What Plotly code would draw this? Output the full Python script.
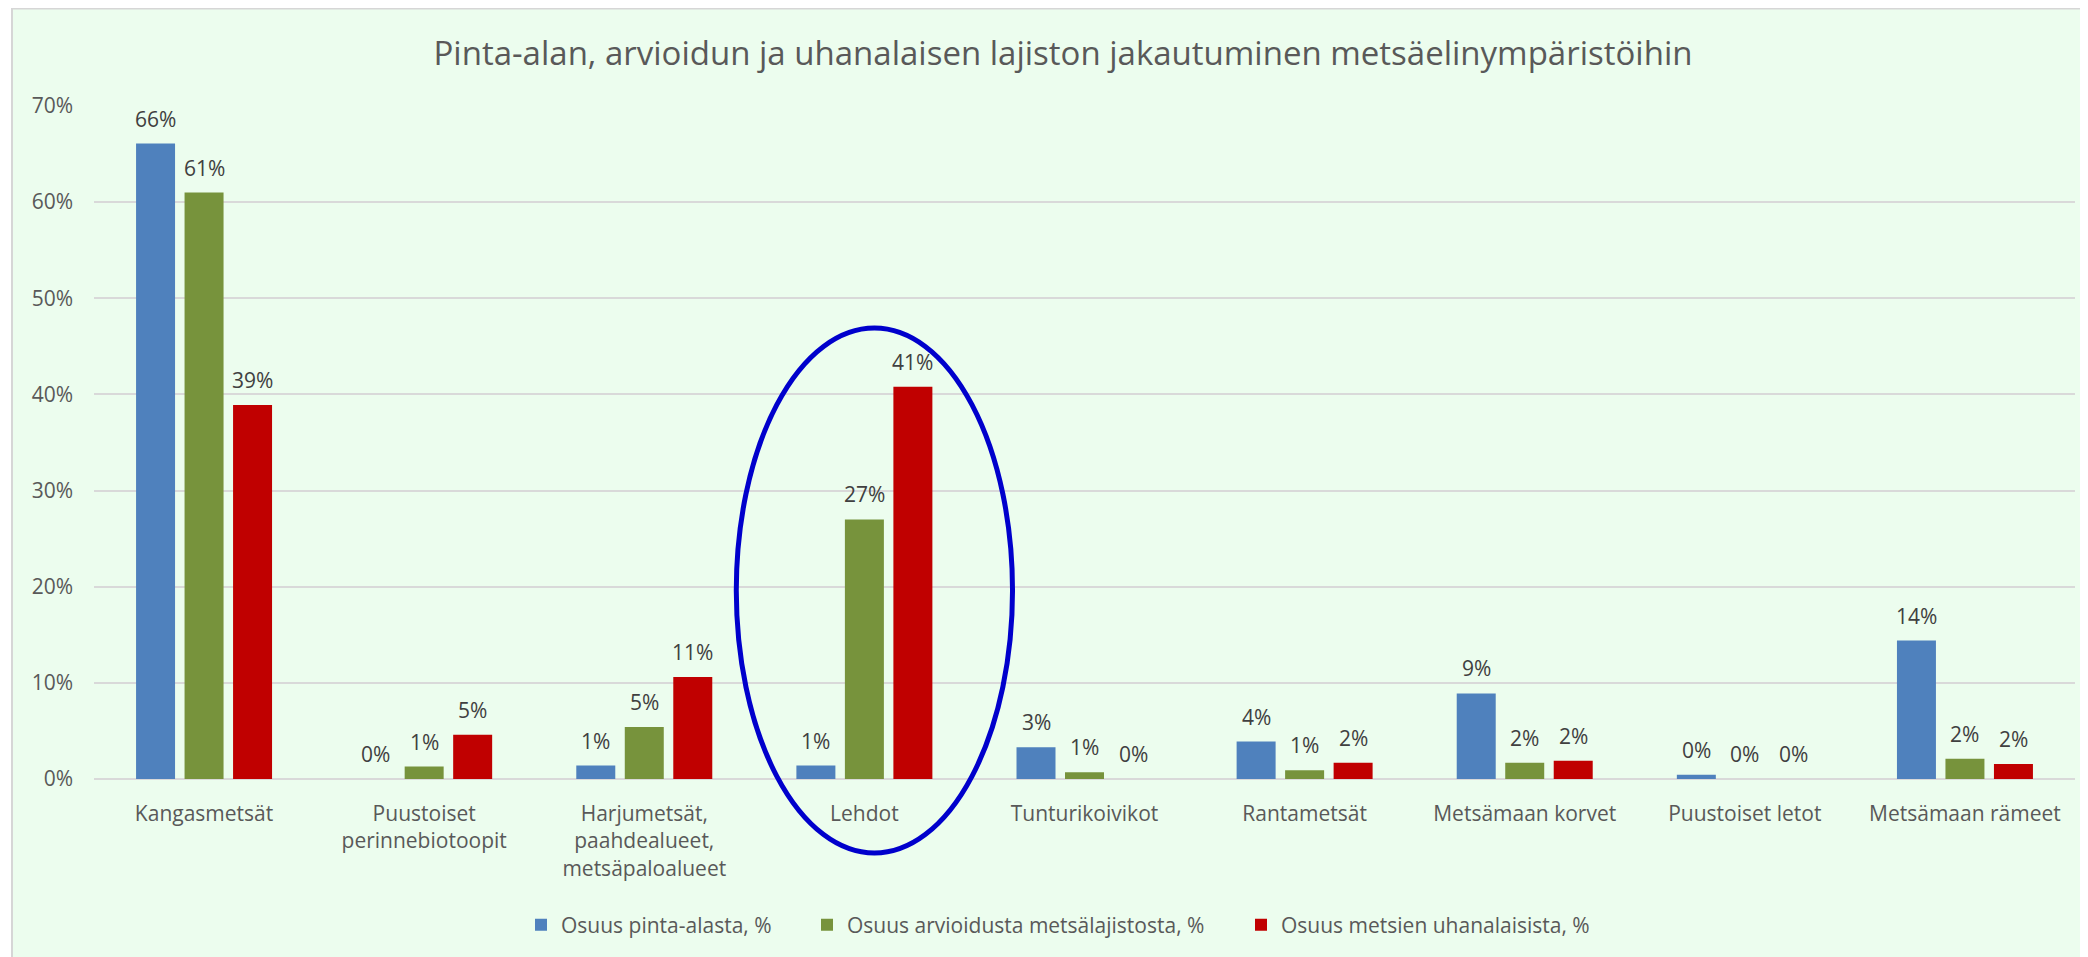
import plotly.graph_objects as go

categories = [
    "Kangasmetsät",
    "Puustoiset<br>perinnebiotoopit",
    "Harjumetsät,<br>paahdealueet,<br>metsäpaloalueet",
    "Lehdot",
    "Tunturikoivikot",
    "Rantametsät",
    "Metsämaan korvet",
    "Puustoiset letot",
    "Metsämaan rämeet",
]
series_names = [
    "Osuus pinta-alasta, %",
    "Osuus arvioidusta metsälajistosta, %",
    "Osuus metsien uhanalaisista, %",
]
area_share = [66.1, 0.0, 1.4, 1.4, 3.3, 3.9, 8.9, 0.45, 14.4]
species_share = [61.0, 1.3, 5.4, 27.0, 0.7, 0.9, 1.7, 0.0, 2.1]
threatened_share = [38.9, 4.6, 10.6, 40.8, 0.0, 1.7, 1.9, 0.0, 1.55]
y_ticks = [0, 10, 20, 30, 40, 50, 60, 70]
y_tick_labels = ["0%", "10%", "20%", "30%", "40%", "50%", "60%", "70%"]

colors = ["#4F81BD", "#77933C", "#C00000"]
FONT = "Open Sans"
TXT = "#595959"
LBL = "#404040"
BG = "#ECFDEE"
GRID = "#D9D9D9"

# page has an 8px body margin; figure sized so that it fills the 2088x957 window
OFF = 8
W, H = 2088 - OFF, 957 - OFF
ML, MR, MT, MB = 86, 13, 98, 178
PW, PH = W - ML - MR, H - MT - MB
BARGAP, GROUPGAP = 0.339, 0.196

all_series = [area_share, species_share, threatened_share]
idx = list(range(len(categories)))
legend_ids = ["legend", "legend2", "legend3"]
legend_left_px = [521, 807, 1241]  # screen x of each legend entry box

fig = go.Figure()
for name, vals, col, lg in zip(series_names, all_series, colors, legend_ids):
    fig.add_trace(go.Bar(x=idx, y=vals, name=name, marker=dict(color=col, line=dict(width=0)),
                         hoverinfo="skip", legend=lg, showlegend=True))

pitch = (1 - BARGAP) / 3
annotations = []
for k, vals in enumerate(all_series):
    for i, v in enumerate(vals):
        annotations.append(dict(x=i + (k - 1) * pitch, y=v, xref="x", yref="y",
                                text=f"{v:.0f}%", showarrow=False, yanchor="middle",
                                yshift=25, font=dict(family=FONT, size=21, color=LBL)))


def px_x(p):
    """screen x (px) -> paper x"""
    return (p - OFF - ML) / PW


def px_y(p):
    """screen y (px) -> paper y"""
    return (H - MB - (p - OFF)) / PH


shapes = [
    # chart area background with thin border (left/top)
    dict(type="rect", xref="paper", yref="paper", x0=px_x(12), x1=px_x(2120),
         y0=px_y(990), y1=px_y(OFF + 0.5), fillcolor=BG, line=dict(color="#D6D6D6", width=2),
         layer="below"),
    # highlight ellipse around "Lehdot"
    dict(type="circle", xref="x", yref="paper", x0=2.418, x1=3.673,
         y0=px_y(853), y1=px_y(328), line=dict(color="#0000CC", width=5),
         fillcolor="rgba(0,0,0,0)", layer="above"),
]

legend_style = dict(orientation="h", xanchor="left", y=px_y(925), yanchor="middle",
                    font=dict(family=FONT, size=21, color=TXT), bgcolor="rgba(0,0,0,0)",
                    itemclick=False, itemdoubleclick=False)
legends = {lg: dict(legend_style, x=px_x(xl)) for lg, xl in zip(legend_ids, legend_left_px)}

fig.update_layout(
    width=W, height=H,
    margin=dict(l=ML, r=MR, t=MT, b=MB, pad=0),
    paper_bgcolor="white", plot_bgcolor="rgba(0,0,0,0)",
    barmode="group", bargap=BARGAP, bargroupgap=GROUPGAP,
    showlegend=True,
    font=dict(family=FONT, size=21, color=TXT),
    title=dict(text="Pinta-alan, arvioidun ja uhanalaisen lajiston jakautuminen metsäelinympäristöihin",
               x=(1063 - OFF) / W, xanchor="center", y=1 - (53 - OFF) / H, yanchor="middle",
               yref="container", font=dict(family=FONT, size=33, color=TXT)),
    xaxis=dict(tickmode="array", tickvals=idx, ticktext=categories, range=[-0.5, len(categories) - 0.5],
               showgrid=False, zeroline=False, showline=False, ticks="", automargin=False,
               ticklabelstandoff=20, tickfont=dict(family=FONT, size=21, color=TXT)),
    yaxis=dict(range=[0, 70], tickmode="array", tickvals=y_ticks, ticktext=y_tick_labels,
               showgrid=True, gridcolor=GRID, gridwidth=2, zeroline=True, zerolinecolor=GRID,
               zerolinewidth=2, showline=False, ticks="", automargin=False, ticklabelstandoff=20,
               tickfont=dict(family=FONT, size=21, color=TXT)),
    annotations=annotations,
    shapes=shapes,
    hovermode=False,
    **legends,
)

fig.write_html("out.html")
